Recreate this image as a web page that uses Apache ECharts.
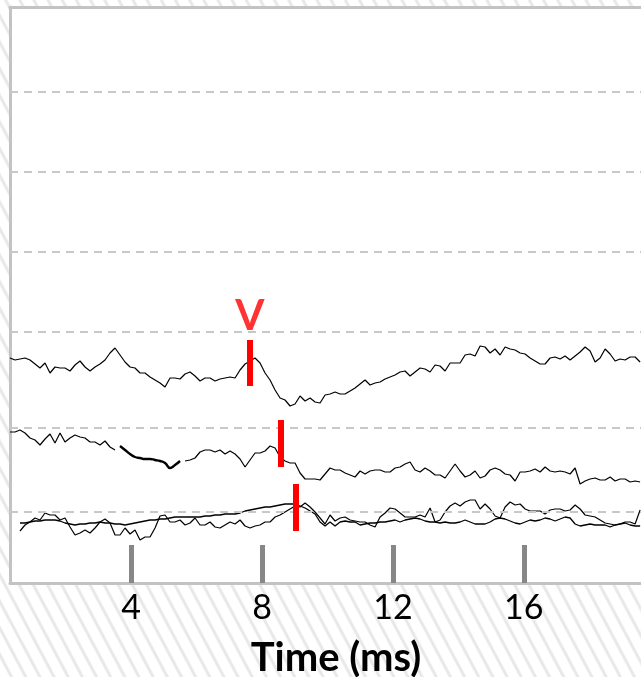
<!DOCTYPE html>
<html>
<head>
<meta charset="utf-8">
<script src="https://cdn.jsdelivr.net/npm/echarts@6/dist/echarts.min.js"></script>
<style>
  html, body { margin: 0; padding: 0; }
  body {
    width: 641px; height: 677px; overflow: hidden;
    background: repeating-linear-gradient(62deg, #ffffff 0px, #ffffff 8px, #e8e8e8 9.5px, #e8e8e8 11px, #ffffff 12.5px);
  }
  #chart { width: 641px; height: 677px; }
</style>
</head>
<body>
<div id="chart"></div>
<script>
// ---- data (time in ms, amplitude in arbitrary stacked units) ----
const T0 = 0.3;            // first sample time (ms)
const SAMPLE_MS = 0.1528;  // sample interval (ms)

const tickValues = [4, 8, 12, 16];
const gridLevels = [49.1, 41.1, 33.1, 25.1, 15.5, 7.1];

// top trace (wave V)
const traceA = [22.5,22.3,22.4,22.5,22.3,21.9,21.5,22.0,21.0,21.6,
21.5,21.5,21.2,21.8,22.2,21.6,21.2,21.6,21.9,22.3,
23.0,23.5,22.8,22.1,21.6,21.5,21.0,21.0,20.6,20.3,
20.0,19.6,20.5,20.5,20.4,20.9,21.1,20.7,20.2,20.5,
20.5,20.2,20.4,20.5,20.6,20.5,21.3,21.9,22.2,22.5,
22.0,21.0,20.3,19.3,18.5,18.3,17.7,17.9,18.7,18.2,
18.5,18.1,18.0,18.8,18.9,19.1,18.9,18.9,19.2,19.5,
19.9,20.3,19.8,20.0,20.1,20.4,20.6,20.8,21.1,21.2,
20.7,21.1,21.5,21.4,21.1,21.8,21.7,21.2,22.0,22.0,
22.0,22.8,22.9,22.7,23.7,23.6,23.0,23.4,22.8,23.6,
23.4,23.3,23.0,22.9,22.5,22.2,21.9,21.9,22.5,22.6,
22.4,22.7,22.3,22.7,23.1,23.6,23.2,22.1,22.5,23.4,
22.9,22.2,22.4,22.3,22.6,22.6,22.1];

// middle trace
const traceB = [15.1,15.1,15.3,15.0,14.5,14.3,13.8,14.4,14.9,14.0,
15.0,14.1,14.5,14.8,14.6,14.5,14.1,14.1,13.8,14.2,
13.6,13.3,null,null,null,null,null,null,null,null,
null,null,null,null,null,12.2,12.3,12.5,13.1,13.3,
13.3,13.1,13.3,12.9,13.2,12.9,12.4,11.6,12.3,13.0,
13.0,13.2,13.7,13.5,12.6,12.2,12.0,12.0,11.0,10.4,
10.4,10.4,10.3,10.9,11.5,11.3,11.3,11.0,10.8,10.6,
11.2,10.9,11.2,11.3,11.3,11.1,11.1,11.5,11.6,11.9,
12.1,11.3,11.1,11.5,11.2,10.8,10.8,10.5,11.2,11.9,
11.2,10.6,10.8,11.2,10.5,10.7,11.3,11.5,11.3,10.9,
10.8,10.2,11.1,11.1,11.2,11.4,11.1,11.6,11.2,11.1,
11.2,11.1,10.9,11.5,9.9,10.2,10.4,10.5,10.3,10.3,
10.6,10.2,10.4,10.4,10.1,10.2,10.1];

// smoothed segment of the middle trace (starts at sample 22)
const ARTIFACT_START = 22;
const traceBSmooth = [13.7,13.3,12.9,12.6,12.5,12.4,12.4,12.3,12.2,12.0,11.5,11.8,12.2];

// bottom traces
const traceC1 = [null,null,6.0,6.0,6.1,6.2,6.2,6.3,6.3,6.3,
6.2,6.0,5.9,5.8,5.9,5.9,6.0,6.0,6.1,6.0,
6.0,5.9,5.9,5.8,5.9,6.0,6.1,6.2,6.3,6.3,
6.4,6.4,6.5,6.6,6.6,6.6,6.6,6.6,6.6,6.7,
6.7,6.8,6.8,6.9,6.9,6.9,7.0,7.2,7.3,7.4,
7.5,7.6,7.6,7.7,7.8,7.9,7.9,7.9,7.7,7.5,
7.2,6.9,6.1,5.7,6.1,5.7,6.1,6.2,6.1,6.1,
5.8,5.9,6.0,6.0,6.1,6.1,6.2,6.3,6.1,6.3,
6.4,6.5,6.4,6.2,6.1,6.1,6.0,6.1,6.0,6.0,
6.1,6.3,6.1,5.9,5.9,5.9,6.1,6.4,6.5,6.4,
6.2,6.0,5.9,6.1,6.3,6.2,6.3,6.5,6.4,6.2,
6.4,6.6,6.5,5.9,5.7,5.8,5.9,5.8,5.8,5.8,
5.6,5.8,5.9,6.0,5.8,5.7,5.7];

const traceC2 = [null,null,5.2,5.8,6.1,6.5,6.3,7.0,6.8,6.8,
6.3,6.5,5.6,4.8,5.0,5.3,5.0,5.5,6.1,6.4,
6.0,4.8,4.8,5.5,4.9,5.3,4.3,4.6,4.6,5.5,
6.7,6.8,6.1,6.1,6.3,5.8,6.0,6.5,5.8,5.8,
6.1,5.6,5.5,5.8,6.1,5.9,6.3,5.7,5.5,5.7,
5.8,6.1,6.1,6.6,6.8,7.1,7.4,7.7,7.6,8.0,
7.6,7.1,6.5,5.9,6.8,6.2,6.5,6.6,6.3,6.2,
6.1,6.1,5.8,5.6,6.6,7.0,7.5,7.4,7.0,6.6,
6.6,6.6,6.8,6.6,7.5,6.1,6.3,7.1,7.7,8.0,
7.7,8.1,8.3,8.3,7.4,7.9,7.4,6.7,6.5,7.6,
8.1,7.8,7.9,7.4,7.2,7.2,7.2,6.9,7.3,7.4,
7.4,7.2,7.3,7.8,7.4,6.8,6.7,6.6,6.3,6.0,
5.9,5.8,5.9,6.1,6.1,5.9,7.3];

// peak markers
const peakTimes  = [7.63, 8.56, 9.04];
const peakTop    = [24.3, 16.3, 9.9];
const peakBottom = [19.7, 11.6, 5.2];
const peakLabel  = 'V';
const peakLabelLevel = 26.7;

// ---- build ----
function toSeries(arr, start) {
  return arr.map((v, i) => [T0 + (start + i) * SAMPLE_MS, v == null ? '-' : v]);
}

const FONT = 'Lato, "Open Sans", sans-serif';
const BORDER = { color: '#c3c3c3', width: 3 };
const chart = echarts.init(document.getElementById('chart'), null, { renderer: 'canvas' });

const traceStyle = (w) => ({ color: '#000', width: w });

const option = {
  backgroundColor: 'transparent',
  animation: false,
  grid: {
    left: 10, right: 0, top: 7, bottom: 94,
    outerBoundsMode: 'none', containLabel: false,
    show: true, backgroundColor: '#ffffff', borderWidth: 0
  },
  xAxis: [{
    type: 'value', min: 0.3, max: 19.58, position: 'bottom',
    name: 'Time (ms)', nameLocation: 'middle', nameGap: 55,
    nameTextStyle: { fontFamily: FONT, fontWeight: 'bold', fontSize: 40, color: '#000', padding: [0, 0, 0, 21] },
    axisLine: { show: true, lineStyle: BORDER },
    splitLine: { show: false },
    axisTick: { show: true, inside: true, length: 38, lineStyle: { color: '#878787', width: 5 }, customValues: tickValues },
    axisLabel: { customValues: tickValues, fontFamily: FONT, fontSize: 34, color: '#000', margin: 8 }
  }, {
    type: 'value', min: 0.3, max: 19.58, position: 'top',
    axisLine: { show: true, lineStyle: BORDER },
    axisTick: { show: false }, axisLabel: { show: false }, splitLine: { show: false }
  }],
  yAxis: {
    type: 'value', min: 0, max: 57.6, position: 'left',
    axisLine: { show: true, lineStyle: BORDER },
    axisTick: { show: false }, axisLabel: { show: false }, splitLine: { show: false }
  },
  series: [
    {
      name: 'grid', type: 'line', data: [], z: 1, silent: true,
      markLine: {
        silent: true, symbol: 'none', label: { show: false }, animation: false,
        lineStyle: { type: [8, 6], color: '#c8c8c8', width: 2 },
        data: gridLevels.map(v => ({ yAxis: v }))
      }
    },
    { name: 'A', type: 'line', data: toSeries(traceA, 0), showSymbol: false, lineStyle: traceStyle(1.2), z: 3 },
    { name: 'B', type: 'line', data: toSeries(traceB, 0), showSymbol: false, lineStyle: traceStyle(1.2), z: 3 },
    { name: 'B smooth', type: 'line', data: toSeries(traceBSmooth, ARTIFACT_START), showSymbol: false, smooth: true, lineStyle: traceStyle(2.4), z: 3 },
    { name: 'C1', type: 'line', data: toSeries(traceC1, 0), showSymbol: false, lineStyle: traceStyle(1.3), z: 3 },
    { name: 'C2', type: 'line', data: toSeries(traceC2, 0), showSymbol: false, lineStyle: traceStyle(1.2), z: 3 },
    {
      name: 'peaks', type: 'line', data: [], z: 5, silent: true,
      markLine: {
        silent: true, symbol: 'none', label: { show: false }, animation: false,
        lineStyle: { type: 'solid', color: '#ff0000', width: 6, cap: 'butt' },
        data: peakTimes.map((t, i) => [{ coord: [t, peakTop[i]] }, { coord: [t, peakBottom[i]] }])
      }
    },
    {
      name: 'label', type: 'scatter', symbolSize: 0, z: 6, silent: true,
      data: [[peakTimes[0], peakLabelLevel]],
      label: { show: true, position: 'inside', formatter: peakLabel, color: '#ff0000', fontFamily: FONT, fontWeight: 'bold', fontSize: 42 }
    }
  ]
};
chart.setOption(option);
</script>
</body>
</html>
